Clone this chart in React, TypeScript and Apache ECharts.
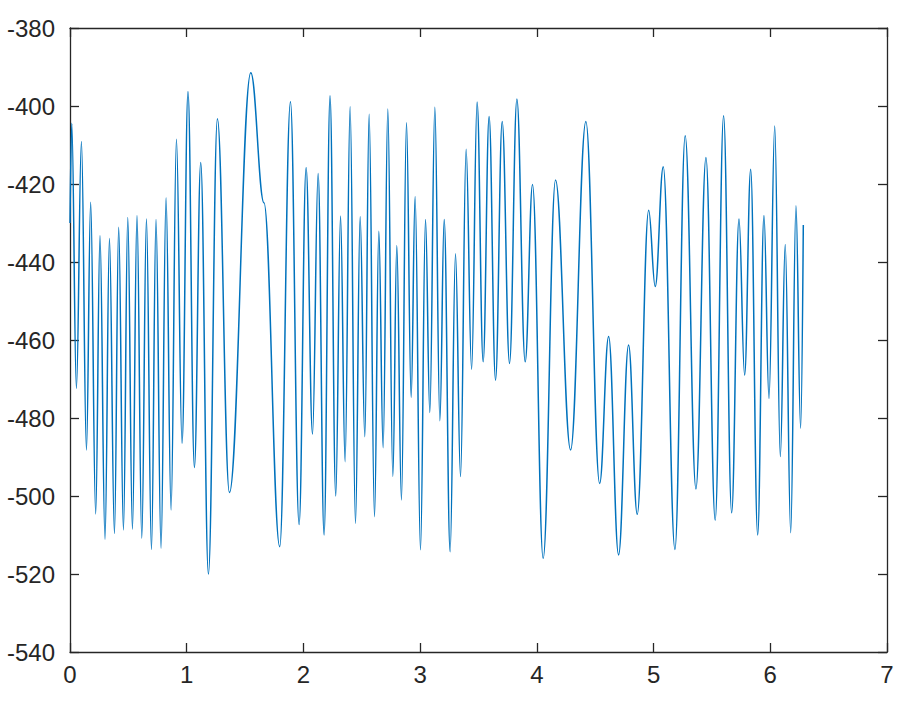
import React, { useEffect, useRef } from "react";
import * as echarts from "echarts";

// x positions of the curve's turning points (and start/end)
const xs: number[] = [
  0.0, 0.015, 0.055, 0.098, 0.141, 0.177, 0.22, 0.257, 0.3, 0.338, 0.381, 0.417, 0.458, 0.495, 0.535,
  0.574, 0.615, 0.655, 0.698, 0.737, 0.78, 0.823, 0.866, 0.912, 0.96, 1.011, 1.066, 1.12, 1.186,
  1.263, 1.366, 1.549, 1.662, 1.797, 1.889, 1.963, 2.023, 2.078, 2.126, 2.177, 2.228, 2.277,
  2.318, 2.357, 2.4, 2.446, 2.486, 2.526, 2.563, 2.609, 2.646, 2.683, 2.723, 2.766, 2.8, 2.84,
  2.883, 2.923, 2.957, 3.003, 3.046, 3.083, 3.126, 3.169, 3.206, 3.257, 3.303, 3.346, 3.394,
  3.441, 3.488, 3.54, 3.591, 3.646, 3.703, 3.766, 3.829, 3.9, 3.963, 4.054, 4.16, 4.289, 4.42,
  4.538, 4.615, 4.7, 4.786, 4.86, 4.958, 5.014, 5.083, 5.183, 5.271, 5.363, 5.449, 5.528, 5.6,
  5.669, 5.732, 5.78, 5.832, 5.892, 5.946, 5.989, 6.038, 6.086, 6.128, 6.175, 6.22, 6.26, 6.283,
];

// y values at those points
const ys: number[] = [
  -430, -404.4, -472.4, -409.1, -488.2, -424.7, -504.6, -433.3, -511.1, -434.0, -509.6, -431.1,
  -508.7, -428.6, -508.5, -428.1, -510.8, -429.0, -513.7, -429.1, -513.4, -423.5, -503.6, -408.5,
  -486.5, -396.3, -492.7, -414.5, -520.0, -403.3, -499.1, -391.5, -424.8, -513.0, -398.9,
  -507.3, -415.8, -484.1, -417.3, -510.0, -397.4, -500.0, -428.2, -491.2, -400.2, -507.0, -428.4,
  -484.8, -402.1, -505.3, -432.1, -487.6, -400.8, -495.0, -435.8, -501.0, -404.3, -474.7, -423.2,
  -513.8, -429.1, -478.6, -400.3, -480.7, -429.1, -514.3, -437.9, -495.0, -411.1, -467.5, -399.0,
  -465.6, -402.7, -470.3, -404.0, -466.0, -398.2, -465.6, -420.1, -516.0, -419.0, -488.2, -404.0,
  -496.8, -459.1, -515.1, -461.3, -504.7, -426.7, -446.3, -415.6, -513.7, -407.6, -498.2, -413.2,
  -506.2, -402.5, -504.3, -429.0, -469.0, -416.2, -510.0, -428.1, -475.0, -405.1, -489.9, -435.5,
  -509.4, -425.6, -482.6, -430.5,
];

const X_MIN = 0;
const X_MAX = 7;
const X_STEP = 1;
const Y_MIN = -540;
const Y_MAX = -380;
const Y_STEP = 20;

const AXIS_COLOR = "#262626";
const LINE_COLOR = "#0072BD";
const FONT = "'Liberation Sans', Arial, sans-serif";

export default function App() {
  const ref = useRef<HTMLDivElement>(null);

  useEffect(() => {
    if (!ref.current) return;
    const chart = echarts.init(ref.current, undefined, { renderer: "svg" });
    const data = xs.map((x, i) => [x, ys[i]]);

    const axisLine = { show: true, onZero: false, lineStyle: { color: AXIS_COLOR, width: 1.3 } };
    const axisTick = { show: true, inside: true, length: 9, lineStyle: { color: AXIS_COLOR, width: 1.3 } };
    const label = { color: AXIS_COLOR, fontSize: 24, fontFamily: FONT };

    chart.setOption({
      animation: false,
      backgroundColor: "#ffffff",
      grid: { left: 70, right: 28, top: 28, bottom: 58, containLabel: false },
      xAxis: [
        {
          type: "value",
          min: X_MIN,
          max: X_MAX,
          interval: X_STEP,
          position: "bottom",
          axisLine,
          axisTick,
          splitLine: { show: false },
          axisLabel: { ...label, margin: 10 },
        },
        {
          type: "value",
          min: X_MIN,
          max: X_MAX,
          interval: X_STEP,
          position: "top",
          axisLine,
          axisTick,
          splitLine: { show: false },
          axisLabel: { show: false },
        },
      ],
      yAxis: [
        {
          type: "value",
          min: Y_MIN,
          max: Y_MAX,
          interval: Y_STEP,
          position: "left",
          axisLine,
          axisTick,
          splitLine: { show: false },
          axisLabel: { ...label, margin: 15 },
        },
        {
          type: "value",
          min: Y_MIN,
          max: Y_MAX,
          interval: Y_STEP,
          position: "right",
          axisLine,
          axisTick,
          splitLine: { show: false },
          axisLabel: { show: false },
        },
      ],
      series: [
        {
          type: "line",
          xAxisIndex: 0,
          yAxisIndex: 0,
          data,
          showSymbol: false,
          smooth: 0.4,
          smoothMonotone: "x",
          lineStyle: { color: LINE_COLOR, width: 1.5 },
        },
      ],
    });

    return () => chart.dispose();
  }, []);

  return (
    <div
      ref={ref}
      style={{ position: "fixed", left: 0, top: 0, width: 915, height: 710 }}
    />
  );
}
